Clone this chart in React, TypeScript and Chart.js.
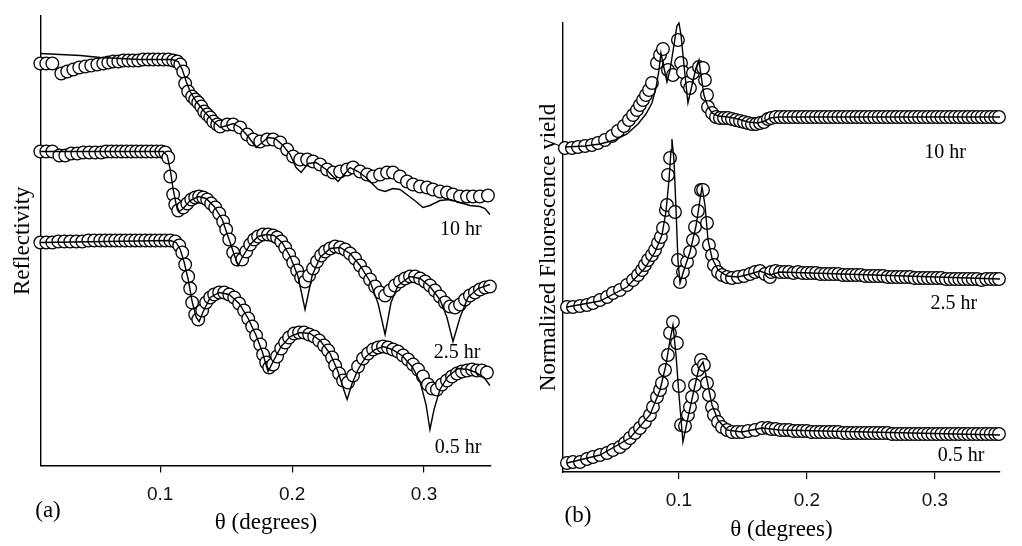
import React, { useEffect, useRef } from "react";
import { Chart, registerables } from "chart.js";

Chart.register(...registerables);

// ---------------- Panel (a): Reflectivity (log scale, offset, arb. units) ----------------
const xTicks = [0.1, 0.2, 0.3];

const a10Theta = [0.0091, 0.0136, 0.0182, 0.025, 0.0295, 0.0341, 0.0386, 0.0432, 0.0477, 0.0523, 0.0568, 0.0606, 0.0644, 0.0682, 0.072, 0.0758, 0.0795, 0.0833, 0.0871, 0.0909, 0.0947, 0.0985, 0.1023, 0.1061, 0.1098, 0.1129, 0.1152, 0.1174, 0.1189, 0.1212, 0.1242, 0.1265, 0.1288, 0.1311, 0.1333, 0.1356, 0.1379, 0.1402, 0.1432, 0.1455, 0.1508, 0.1553, 0.1606, 0.1659, 0.1705, 0.1758, 0.1811, 0.1856, 0.1909, 0.1962, 0.2008, 0.2061, 0.2114, 0.2159, 0.2212, 0.2265, 0.2311, 0.2364, 0.2417, 0.2462, 0.2515, 0.2568, 0.2614, 0.2667, 0.272, 0.2765, 0.2818, 0.2871, 0.2917, 0.297, 0.3023, 0.3068, 0.3121, 0.3174, 0.322, 0.3273, 0.3326, 0.3371, 0.3424, 0.3485];
const a10R = [40.2, 40.2, 40.2, 39.2, 39.4, 39.6, 39.8, 39.9, 40.0, 40.1, 40.2, 40.3, 40.4, 40.4, 40.5, 40.5, 40.5, 40.5, 40.6, 40.6, 40.6, 40.6, 40.6, 40.6, 40.5, 40.4, 40.1, 39.4, 38.2, 37.4, 36.9, 36.6, 36.3, 35.9, 35.4, 35.1, 34.8, 34.4, 34.1, 33.9, 34.1, 34.1, 33.8, 33.1, 32.6, 32.4, 32.6, 32.6, 32.3, 31.6, 30.9, 30.6, 30.6, 30.4, 30.1, 29.6, 29.3, 29.4, 29.6, 29.8, 29.4, 29.1, 28.9, 29.1, 29.3, 29.3, 28.9, 28.4, 28.1, 27.9, 27.8, 27.6, 27.4, 27.3, 27.1, 26.9, 26.9, 26.9, 26.9, 27.0];
const a10FitTheta = [0.0091, 0.0242, 0.0394, 0.0545, 0.0697, 0.0848, 0.1, 0.1091, 0.1136, 0.1167, 0.1197, 0.1227, 0.1273, 0.1341, 0.1402, 0.1455, 0.1508, 0.1553, 0.1606, 0.1667, 0.1727, 0.1773, 0.1818, 0.1871, 0.1932, 0.1985, 0.203, 0.2068, 0.2121, 0.2182, 0.2258, 0.2303, 0.2348, 0.2394, 0.2439, 0.25, 0.2561, 0.2606, 0.2652, 0.2705, 0.2765, 0.2818, 0.2879, 0.2939, 0.2992, 0.3045, 0.3121, 0.3197, 0.3273, 0.3348, 0.3424, 0.3462, 0.35];
const a10Fit = [41.2, 41.1, 41.0, 40.8, 40.7, 40.6, 40.6, 40.6, 40.4, 39.6, 38.4, 37.4, 36.4, 35.3, 34.4, 33.8, 34.0, 34.2, 33.8, 32.9, 31.8, 32.3, 32.8, 32.7, 32.0, 31.1, 29.8, 29.3, 30.2, 30.3, 29.6, 29.0, 28.4, 29.1, 29.8, 29.4, 28.8, 28.2, 27.6, 27.4, 27.7, 27.6, 27.0, 26.4, 25.8, 26.0, 26.5, 26.6, 26.3, 26.0, 25.9, 25.7, 25.1];

const a25Theta = [0.0091, 0.0136, 0.0182, 0.0235, 0.028, 0.0326, 0.0371, 0.0417, 0.0462, 0.0508, 0.0553, 0.0591, 0.0629, 0.0667, 0.0705, 0.0742, 0.078, 0.0818, 0.0856, 0.0894, 0.0932, 0.097, 0.1008, 0.1038, 0.1061, 0.1076, 0.1098, 0.1114, 0.1136, 0.1174, 0.1205, 0.1235, 0.1265, 0.1295, 0.1326, 0.1356, 0.1386, 0.1417, 0.1447, 0.1477, 0.15, 0.1523, 0.1553, 0.1583, 0.1621, 0.1652, 0.1682, 0.1712, 0.1742, 0.178, 0.1818, 0.1856, 0.1886, 0.1917, 0.1947, 0.1977, 0.2008, 0.2038, 0.2068, 0.2098, 0.2129, 0.2159, 0.2189, 0.222, 0.225, 0.2288, 0.2326, 0.2364, 0.2402, 0.2439, 0.2477, 0.2515, 0.2553, 0.2591, 0.2629, 0.2667, 0.2705, 0.2742, 0.278, 0.2818, 0.2856, 0.2894, 0.2932, 0.297, 0.3008, 0.3045, 0.3083, 0.3121, 0.3159, 0.3197, 0.3235, 0.3273, 0.3311, 0.3348, 0.3386, 0.3424, 0.3462, 0.35];
const a25R = [31.4, 31.4, 31.4, 31.0, 31.0, 31.2, 31.2, 31.3, 31.3, 31.3, 31.3, 31.4, 31.4, 31.4, 31.4, 31.4, 31.4, 31.4, 31.4, 31.4, 31.4, 31.4, 31.4, 31.3, 30.8, 28.9, 27.1, 26.1, 25.5, 25.8, 26.2, 26.6, 26.8, 26.9, 26.8, 26.6, 26.2, 25.8, 25.2, 24.4, 23.6, 22.6, 21.3, 20.6, 20.6, 21.4, 22.1, 22.6, 22.9, 23.1, 23.1, 23.0, 22.8, 22.4, 21.8, 21.1, 20.3, 19.5, 18.8, 18.4, 19.0, 19.7, 20.4, 21.0, 21.4, 21.7, 21.9, 21.8, 21.6, 21.2, 20.7, 20.0, 19.3, 18.6, 17.9, 17.3, 17.0, 17.5, 18.0, 18.4, 18.7, 18.9, 18.9, 18.7, 18.4, 18.0, 17.5, 16.9, 16.3, 15.9, 15.8, 16.1, 16.6, 17.0, 17.3, 17.6, 17.8, 17.9];
const a25FitTheta = [0.0091, 0.1023, 0.1053, 0.1076, 0.1098, 0.1121, 0.1144, 0.1174, 0.1227, 0.1288, 0.1348, 0.1409, 0.147, 0.153, 0.1568, 0.1591, 0.1621, 0.1682, 0.1742, 0.1803, 0.1864, 0.1924, 0.1985, 0.2045, 0.2098, 0.2152, 0.2212, 0.2288, 0.2364, 0.2439, 0.2515, 0.2591, 0.2652, 0.2705, 0.275, 0.2803, 0.2894, 0.297, 0.3045, 0.3121, 0.3174, 0.322, 0.3273, 0.3333, 0.3409, 0.35];
const a25Fit = [31.4, 31.4, 31.0, 29.6, 27.6, 26.1, 25.4, 25.7, 26.5, 26.9, 26.7, 25.9, 24.6, 22.3, 20.8, 20.0, 20.8, 22.1, 22.9, 23.1, 23.0, 22.3, 20.9, 18.9, 15.6, 19.0, 20.8, 21.7, 21.8, 21.2, 20.0, 18.4, 16.2, 13.1, 16.3, 18.0, 18.9, 18.7, 17.9, 16.6, 14.8, 12.4, 14.8, 16.8, 17.7, 18.1];

const a05Theta = [0.0091, 0.0136, 0.0182, 0.0227, 0.0273, 0.0318, 0.0364, 0.0409, 0.0455, 0.05, 0.0545, 0.0583, 0.0621, 0.0659, 0.0697, 0.0735, 0.0773, 0.0811, 0.0848, 0.0886, 0.0924, 0.0962, 0.1, 0.1038, 0.1076, 0.1114, 0.1144, 0.1167, 0.1189, 0.1212, 0.1227, 0.1242, 0.1265, 0.1288, 0.1318, 0.1348, 0.1379, 0.1409, 0.1447, 0.1485, 0.1523, 0.1561, 0.1598, 0.1636, 0.1667, 0.1697, 0.1727, 0.1758, 0.178, 0.1803, 0.1826, 0.1856, 0.1886, 0.1917, 0.1947, 0.1977, 0.2015, 0.2053, 0.2091, 0.2129, 0.2167, 0.2205, 0.2242, 0.2273, 0.2303, 0.2326, 0.2356, 0.2386, 0.2424, 0.2462, 0.25, 0.2538, 0.2576, 0.2614, 0.2652, 0.2689, 0.2727, 0.2765, 0.2803, 0.2841, 0.2879, 0.2917, 0.2955, 0.2992, 0.303, 0.3061, 0.3098, 0.3136, 0.3174, 0.3212, 0.325, 0.3288, 0.3326, 0.3364, 0.3402, 0.3439, 0.3477];
const a05R = [22.3, 22.3, 22.3, 22.4, 22.4, 22.4, 22.4, 22.4, 22.5, 22.5, 22.5, 22.5, 22.5, 22.5, 22.5, 22.5, 22.5, 22.5, 22.5, 22.5, 22.5, 22.5, 22.5, 22.5, 22.5, 22.4, 22.0, 21.3, 20.1, 18.9, 17.7, 16.3, 15.1, 14.6, 15.5, 16.3, 16.8, 17.1, 17.3, 17.3, 17.1, 16.8, 16.2, 15.5, 14.7, 13.9, 13.0, 12.1, 11.1, 10.3, 9.8, 10.1, 10.9, 11.7, 12.3, 12.8, 13.2, 13.3, 13.3, 13.1, 12.9, 12.5, 12.0, 11.5, 10.8, 10.0, 9.2, 8.5, 8.3, 9.0, 9.9, 10.7, 11.2, 11.6, 11.8, 11.9, 11.8, 11.6, 11.4, 11.0, 10.6, 10.1, 9.6, 8.9, 8.1, 7.7, 7.6, 8.1, 8.5, 8.9, 9.2, 9.4, 9.5, 9.6, 9.5, 9.5, 9.3];
const a05FitTheta = [0.0091, 0.1076, 0.1121, 0.1152, 0.1182, 0.1212, 0.1242, 0.1273, 0.1295, 0.1326, 0.1379, 0.1447, 0.1523, 0.1598, 0.1667, 0.1727, 0.1773, 0.1818, 0.1864, 0.1917, 0.1985, 0.2061, 0.2136, 0.2212, 0.2288, 0.2348, 0.2386, 0.2417, 0.2455, 0.25, 0.2561, 0.2629, 0.2689, 0.2758, 0.2833, 0.2909, 0.297, 0.3015, 0.3045, 0.3076, 0.3121, 0.3182, 0.3258, 0.3333, 0.3394, 0.3455, 0.35];
const a05Fit = [22.3, 22.5, 22.3, 21.6, 20.3, 18.6, 16.4, 14.8, 14.4, 15.4, 16.8, 17.3, 17.1, 16.2, 14.7, 13.0, 11.4, 9.4, 10.6, 11.9, 12.9, 13.3, 13.2, 12.5, 11.2, 9.4, 7.8, 6.6, 8.2, 9.6, 10.9, 11.6, 11.9, 11.6, 11.0, 9.9, 8.4, 6.1, 3.6, 5.6, 7.6, 8.9, 9.7, 9.6, 9.3, 8.8, 8.0];

// ---------------- Panel (b): Normalized fluorescence yield (offset, arb. units) ----------------
const bTailTheta = [0.172, 0.1755, 0.179, 0.1825, 0.186, 0.1895, 0.193, 0.1965, 0.2, 0.2035, 0.207, 0.2105, 0.214, 0.2175, 0.221, 0.2245, 0.228, 0.2315, 0.235, 0.2385, 0.242, 0.2455, 0.249, 0.2525, 0.256, 0.2595, 0.263, 0.2665, 0.27, 0.2735, 0.277, 0.2805, 0.284, 0.2875, 0.291, 0.2945, 0.298, 0.3015, 0.305, 0.3085, 0.312, 0.3155, 0.319, 0.3225, 0.326, 0.3295, 0.333, 0.3365, 0.34, 0.3435, 0.347, 0.35];

const b10Theta = [0.0109, 0.0164, 0.0211, 0.0266, 0.032, 0.0367, 0.0422, 0.0477, 0.0523, 0.057, 0.0609, 0.0641, 0.0672, 0.0695, 0.0719, 0.0742, 0.0766, 0.0789, 0.0828, 0.0852, 0.0875, 0.0914, 0.0953, 0.0992, 0.1016, 0.1031, 0.1063, 0.1086, 0.1109, 0.1156, 0.1188, 0.1203, 0.1219, 0.1227, 0.1258, 0.1289, 0.132, 0.1352, 0.1383, 0.1414, 0.1445, 0.1477, 0.1508, 0.1539, 0.157, 0.1602, 0.1633, 0.1664, 0.1695];
const b10Y = [32.4, 32.4, 32.5, 32.6, 32.7, 32.9, 33.2, 33.6, 34.1, 34.6, 35.2, 35.7, 36.2, 36.7, 37.2, 37.7, 38.2, 38.9, 40.9, 41.7, 42.3, 40.2, 39.7, 43.2, 40.9, 40.0, 38.9, 38.4, 39.9, 40.5, 40.4, 39.2, 37.7, 36.5, 35.9, 35.5, 35.4, 35.4, 35.4, 35.3, 35.2, 35.1, 35.0, 34.9, 34.8, 34.8, 34.9, 35.0, 35.3];
const b10TailY = [35.4, 35.5, 35.5, 35.5, 35.5, 35.5, 35.5, 35.5, 35.5, 35.5, 35.5, 35.5, 35.5, 35.5, 35.5, 35.5, 35.5, 35.5, 35.5, 35.5, 35.5, 35.5, 35.5, 35.5, 35.5, 35.5, 35.5, 35.5, 35.5, 35.5, 35.5, 35.5, 35.5, 35.5, 35.5, 35.5, 35.5, 35.5, 35.5, 35.5, 35.5, 35.5, 35.5, 35.5, 35.5, 35.5, 35.5, 35.5, 35.5, 35.5, 35.5, 35.5];
const b10FitTheta = [0.0109, 0.0266, 0.0383, 0.05, 0.0594, 0.068, 0.0742, 0.0789, 0.082, 0.0844, 0.0859, 0.0883, 0.0906, 0.093, 0.0961, 0.0984, 0.1, 0.1016, 0.1039, 0.107, 0.1102, 0.1133, 0.1156, 0.1172, 0.1195, 0.1227, 0.1258, 0.1305, 0.1383, 0.1461, 0.1539, 0.1617, 0.1672, 0.1711, 0.1789, 0.3508];
const b10Fit = [32.5, 32.6, 32.8, 33.2, 33.8, 34.8, 35.8, 36.9, 38.4, 40.2, 41.9, 40.4, 39.0, 40.2, 42.7, 44.6, 44.9, 43.7, 40.7, 36.9, 38.7, 40.4, 41.2, 39.7, 37.7, 36.5, 35.9, 35.6, 35.5, 35.3, 35.0, 34.9, 35.1, 35.4, 35.5, 35.5];

const b25Theta = [0.0125, 0.0172, 0.0227, 0.0281, 0.0328, 0.0383, 0.0438, 0.0484, 0.0539, 0.0594, 0.0641, 0.068, 0.0711, 0.0734, 0.0758, 0.0789, 0.0813, 0.0836, 0.0859, 0.0875, 0.0898, 0.0906, 0.0914, 0.093, 0.0969, 0.0992, 0.1008, 0.1031, 0.1063, 0.1086, 0.1109, 0.1125, 0.1148, 0.1172, 0.1188, 0.1219, 0.1234, 0.1258, 0.1273, 0.1305, 0.1336, 0.1375, 0.1414, 0.1461, 0.1508, 0.1555, 0.1594, 0.1633, 0.1672, 0.1711];
const b25Y = [16.5, 16.5, 16.6, 16.7, 16.9, 17.2, 17.5, 17.9, 18.2, 18.7, 19.2, 19.7, 20.2, 20.7, 21.2, 21.7, 22.2, 22.9, 23.5, 24.4, 26.2, 26.7, 29.7, 31.4, 26.0, 21.2, 19.0, 20.0, 21.0, 22.0, 23.2, 24.5, 26.1, 28.2, 28.2, 24.9, 22.7, 21.7, 20.7, 20.0, 19.7, 19.5, 19.4, 19.5, 19.6, 19.8, 20.0, 20.1, 19.8, 19.5];
const b25TailY = [20.0, 20.1, 20.0, 20.0, 20.0, 19.9, 20.0, 19.9, 19.9, 19.9, 19.9, 19.8, 19.8, 19.8, 19.8, 19.8, 19.7, 19.7, 19.7, 19.7, 19.7, 19.6, 19.6, 19.6, 19.6, 19.6, 19.5, 19.5, 19.5, 19.5, 19.5, 19.5, 19.4, 19.4, 19.4, 19.4, 19.4, 19.4, 19.4, 19.3, 19.3, 19.3, 19.3, 19.3, 19.3, 19.3, 19.3, 19.2, 19.3, 19.3, 19.3, 19.3];
const b25FitTheta = [0.0125, 0.0383, 0.0594, 0.0734, 0.0813, 0.0867, 0.0898, 0.0922, 0.0938, 0.0945, 0.0961, 0.0977, 0.0992, 0.1008, 0.1039, 0.1086, 0.1133, 0.1164, 0.118, 0.1203, 0.1227, 0.1258, 0.1305, 0.1375, 0.1461, 0.1555, 0.1633, 0.1711, 0.1789, 0.3508];
const b25Fit = [16.5, 17.1, 18.5, 20.4, 22.0, 23.7, 26.0, 29.2, 32.2, 33.3, 31.2, 26.2, 21.2, 18.9, 20.2, 22.0, 24.6, 27.2, 28.5, 26.7, 23.2, 21.4, 20.2, 19.6, 19.5, 19.8, 20.1, 19.7, 20.0, 19.3];

const b05Theta = [0.0125, 0.0172, 0.0227, 0.0281, 0.0328, 0.0383, 0.0438, 0.0484, 0.0539, 0.0578, 0.0617, 0.0656, 0.0695, 0.0734, 0.0773, 0.0797, 0.0828, 0.0852, 0.0867, 0.0891, 0.0914, 0.093, 0.0953, 0.0984, 0.1, 0.1016, 0.1047, 0.107, 0.1086, 0.1102, 0.1125, 0.1148, 0.1172, 0.1195, 0.1219, 0.1234, 0.1258, 0.1273, 0.1305, 0.1336, 0.1375, 0.1414, 0.1453, 0.1492, 0.1539, 0.1594, 0.1648, 0.1695];
const b05Y = [0.9, 1.0, 1.0, 1.3, 1.5, 1.7, 1.9, 2.2, 2.5, 2.9, 3.4, 3.9, 4.4, 5.0, 5.7, 6.5, 7.5, 8.2, 8.9, 10.2, 11.7, 13.9, 15.0, 12.9, 8.6, 4.7, 4.6, 5.7, 6.5, 7.5, 8.7, 10.2, 11.2, 10.7, 8.9, 7.7, 6.5, 5.7, 5.0, 4.5, 4.2, 4.0, 4.0, 4.0, 4.1, 4.2, 4.4, 4.4];
const b05TailY = [4.3, 4.3, 4.2, 4.2, 4.2, 4.1, 4.1, 4.1, 4.1, 4.0, 4.0, 4.0, 4.0, 4.0, 4.0, 4.0, 3.9, 3.9, 3.9, 3.9, 3.9, 3.9, 3.9, 3.9, 3.9, 3.9, 3.9, 3.8, 3.8, 3.8, 3.8, 3.8, 3.8, 3.8, 3.8, 3.8, 3.8, 3.8, 3.8, 3.8, 3.8, 3.8, 3.8, 3.8, 3.8, 3.8, 3.8, 3.8, 3.8, 3.8, 3.8, 3.8];
const b05FitTheta = [0.0125, 0.0383, 0.0617, 0.0773, 0.0852, 0.0898, 0.093, 0.0953, 0.0977, 0.1, 0.1031, 0.107, 0.1117, 0.1156, 0.1188, 0.1219, 0.1258, 0.1305, 0.1375, 0.1492, 0.1648, 0.1789, 0.3508];
const b05Fit = [0.9, 1.7, 3.4, 5.7, 8.2, 10.7, 13.2, 14.7, 11.7, 7.7, 3.0, 5.4, 8.2, 10.4, 11.0, 9.2, 6.7, 5.2, 4.2, 4.0, 4.4, 4.2, 3.7];

// series labels
const aLabels = ["10 hr", "2.5 hr", "0.5 hr"];
const aLabelTheta = [0.328, 0.325, 0.3258];
const aLabelY = [23.55, 11.25, 1.75];
const bLabels = ["10 hr", "2.5 hr", "0.5 hr"];
const bLabelTheta = [0.3078, 0.3148, 0.3203];
const bLabelY = [31.9, 16.8, 1.6];

type Pt = { x: number; y: number };
const zip = (xs: number[], ys: number[]): Pt[] => xs.map((x, i) => ({ x, y: ys[i] }));

const SERIF = '"Liberation Serif", "Times New Roman", serif';
const SANS = '"Liberation Sans", Arial, sans-serif';

type PanelCfg = {
  obs: Pt[][];
  fits: Pt[][];
  xMin: number;
  xMax: number;
  yMax: number;
  padding: { left: number; right: number; top: number; bottom: number };
  yWidth: number;
  xHeight: number;
  tickPad: number;
  xTitlePad: number;
  yTitle: string;
  yTitlePad: number;
  labels: string[];
  labelTheta: number[];
  labelY: number[];
  panelTag: string;
  tagDx: number;
  tagDy: number;
};

function makeChart(canvas: HTMLCanvasElement, p: PanelCfg) {
  const textPlugin = {
    id: "panelText",
    afterDatasetsDraw(chart: any) {
      const { ctx, scales, chartArea } = chart;
      ctx.save();
      ctx.fillStyle = "#000";
      ctx.textAlign = "center";
      ctx.textBaseline = "middle";
      ctx.font = `20px ${SERIF}`;
      p.labels.forEach((t, i) => {
        ctx.fillText(t, scales.x.getPixelForValue(p.labelTheta[i]), scales.y.getPixelForValue(p.labelY[i]));
      });
      ctx.font = `23px ${SERIF}`;
      ctx.fillText(p.panelTag, chartArea.left + p.tagDx, chartArea.bottom + p.tagDy);
      ctx.restore();
    },
  };

  const datasets: any[] = [];
  p.fits.forEach((d) =>
    datasets.push({
      data: d,
      showLine: true,
      borderColor: "#000",
      borderWidth: 1.4,
      pointRadius: 0,
      tension: 0,
      order: 0,
      clip: false,
    })
  );
  p.obs.forEach((d) =>
    datasets.push({
      data: d,
      showLine: false,
      pointRadius: 6.3,
      pointBorderWidth: 1.3,
      pointBorderColor: "#000",
      pointBackgroundColor: "#fff",
      order: 1,
      clip: false,
    })
  );

  return new Chart(canvas, {
    type: "scatter",
    data: { datasets },
    options: {
      animation: false,
      responsive: false,
      events: [],
      layout: { padding: p.padding },
      plugins: { legend: { display: false }, tooltip: { enabled: false } },
      scales: {
        x: {
          type: "linear",
          min: p.xMin,
          max: p.xMax,
          afterFit: (s: any) => {
            s.height = p.xHeight;
          },
          afterBuildTicks: (s: any) => {
            s.ticks = xTicks.map((v) => ({ value: v }));
          },
          grid: {
            display: true,
            drawOnChartArea: false,
            drawTicks: true,
            tickLength: 7,
            color: "#000",
            lineWidth: 1.2,
          },
          border: { display: true, color: "#000", width: 1.4 },
          ticks: {
            color: "#111",
            font: { family: SANS, size: 19 },
            padding: p.tickPad,
            maxRotation: 0,
            autoSkip: false,
            callback: (v: any) => Number(v).toFixed(1),
          },
          title: {
            display: true,
            text: "θ (degrees)",
            color: "#000",
            font: { family: SERIF, size: 23 },
            padding: { top: 0, bottom: p.xTitlePad },
          },
        },
        y: {
          type: "linear",
          min: 0,
          max: p.yMax,
          afterFit: (s: any) => {
            s.width = p.yWidth;
          },
          grid: { display: false },
          border: { display: true, color: "#000", width: 1.4 },
          ticks: { display: false },
          title: {
            display: true,
            text: p.yTitle,
            color: "#000",
            font: { family: SERIF, size: 23 },
            padding: { top: p.yTitlePad, bottom: 0 },
          },
        },
      },
    } as any,
    plugins: [textPlugin],
  });
}

export default function App() {
  const refA = useRef<HTMLCanvasElement>(null);
  const refB = useRef<HTMLCanvasElement>(null);

  useEffect(() => {
    const chartA = makeChart(refA.current!, {
      obs: [zip(a10Theta, a10R), zip(a25Theta, a25R), zip(a05Theta, a05R)],
      fits: [zip(a10FitTheta, a10Fit), zip(a25FitTheta, a25Fit), zip(a05FitTheta, a05Fit)],
      xMin: 0.0096,
      xMax: 0.3508,
      yMax: 44.95,
      padding: { left: 0, right: 20, top: 16, bottom: 0 },
      yWidth: 41,
      xHeight: 80.5,
      tickPad: 11,
      xTitlePad: 9,
      yTitle: "Reflectivity",
      yTitlePad: 9,
      labels: aLabels,
      labelTheta: aLabelTheta,
      labelY: aLabelY,
      panelTag: "(a)",
      tagDx: 7,
      tagDy: 45.5,
    });
    const chartB = makeChart(refB.current!, {
      obs: [
        zip(b10Theta.concat(bTailTheta), b10Y.concat(b10TailY)),
        zip(b25Theta.concat(bTailTheta), b25Y.concat(b25TailY)),
        zip(b05Theta.concat(bTailTheta), b05Y.concat(b05TailY)),
      ],
      fits: [zip(b10FitTheta, b10Fit), zip(b25FitTheta, b25Fit), zip(b05FitTheta, b05Fit)],
      xMin: 0.0094,
      xMax: 0.3508,
      yMax: 44.9,
      padding: { left: 0, right: 22, top: 23, bottom: 0 },
      yWidth: 52,
      xHeight: 74,
      tickPad: 10,
      xTitlePad: 2,
      yTitle: "Normalized Fluorescence yield",
      yTitlePad: 24,
      labels: bLabels,
      labelTheta: bLabelTheta,
      labelY: bLabelY,
      panelTag: "(b)",
      tagDx: 15,
      tagDy: 44,
    });
    return () => {
      chartA.destroy();
      chartB.destroy();
    };
  }, []);

  return (
    <div style={{ position: "absolute", left: 0, top: 0, width: 1022, height: 546, background: "#fff" }}>
      <canvas ref={refA} width={511} height={546} style={{ position: "absolute", left: 0, top: 0, width: 511, height: 546 }} />
      <canvas ref={refB} width={511} height={546} style={{ position: "absolute", left: 511, top: 0, width: 511, height: 546 }} />
    </div>
  );
}
